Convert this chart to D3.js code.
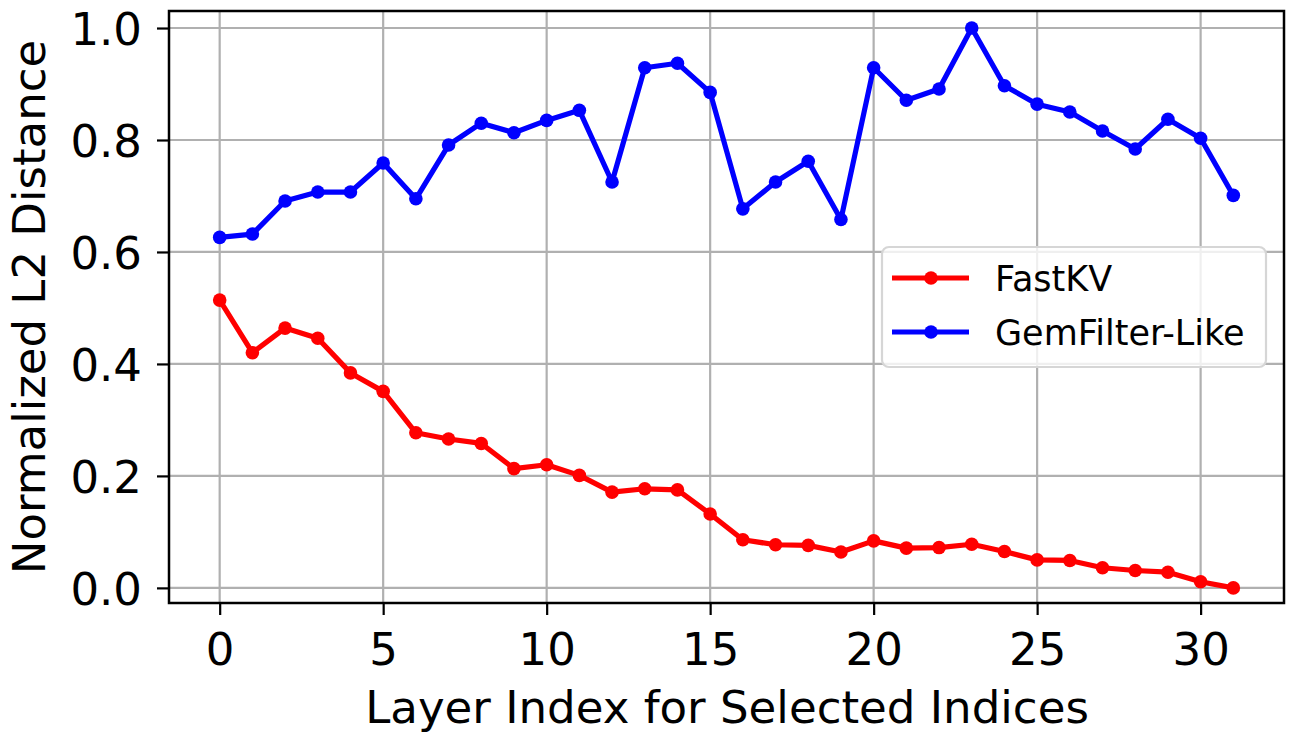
<!DOCTYPE html>
<html>
<head>
<meta charset="utf-8">
<script src="https://cdn.jsdelivr.net/npm/d3@7"></script>
<style>
  html, body { margin: 0; padding: 0; background: #fff; }
  svg { display: block; }
  text { font-family: "DejaVu Sans", sans-serif; fill: #000; }
</style>
</head>
<body>
<svg id="chart" width="1292" height="737"></svg>
<script>
const layers = d3.range(32);
const fastKV = [0.514, 0.420, 0.464, 0.446, 0.384, 0.351, 0.277, 0.266, 0.258, 0.213,
                0.220, 0.201, 0.171, 0.177, 0.175, 0.132, 0.086, 0.077, 0.076, 0.064,
                0.084, 0.071, 0.072, 0.078, 0.065, 0.050, 0.049, 0.036, 0.031, 0.028,
                0.011, 0.000];
const gemFilter = [0.626, 0.632, 0.691, 0.707, 0.707, 0.759, 0.695, 0.791, 0.830, 0.813,
                   0.835, 0.853, 0.725, 0.929, 0.937, 0.885, 0.677, 0.725, 0.762, 0.658,
                   0.929, 0.871, 0.891, 1.000, 0.897, 0.864, 0.850, 0.816, 0.784, 0.837,
                   0.803, 0.701];
const xTicks = [0, 5, 10, 15, 20, 25, 30];
const yTicks = [0.0, 0.2, 0.4, 0.6, 0.8, 1.0];
const seriesNames = ["FastKV", "GemFilter-Like"];
const seriesColors = ["#ff0000", "#0000ff"];
const xLabel = "Layer Index for Selected Indices";
const yLabel = "Normalized L2 Distance";

const svg = d3.select("#chart");
const L = 169, R = 1284, T = 11, B = 603;
const x = d3.scaleLinear().domain([-1.55, 32.55]).range([L, R]);
const y = d3.scaleLinear().domain([-0.027, 1.0304]).range([B, T]);

// grid
const grid = svg.append("g");
grid.selectAll("line.gx").data(xTicks).enter().append("line")
  .attr("x1", d => x(d)).attr("x2", d => x(d)).attr("y1", T).attr("y2", B)
  .attr("stroke", "#b0b0b0").attr("stroke-width", 2.2);
grid.selectAll("line.gy").data(yTicks).enter().append("line")
  .attr("y1", d => y(d)).attr("y2", d => y(d)).attr("x1", L).attr("x2", R)
  .attr("stroke", "#b0b0b0").attr("stroke-width", 2.2);

// lines
const series = [fastKV, gemFilter];
const line = d3.line().x((d, i) => x(layers[i])).y(d => y(d));
series.forEach((s, k) => {
  svg.append("path").datum(s).attr("d", line)
    .attr("fill", "none").attr("stroke", seriesColors[k])
    .attr("stroke-width", 5.2).attr("stroke-linejoin", "round").attr("stroke-linecap", "square");
  svg.append("g").selectAll("circle").data(s).enter().append("circle")
    .attr("cx", (d, i) => x(layers[i])).attr("cy", d => y(d)).attr("r", 6.8)
    .attr("fill", seriesColors[k]);
});

// axes
const xAxis = d3.axisBottom(x).tickValues(xTicks).tickFormat(d3.format("d"))
  .tickSize(12).tickPadding(10);
const yAxis = d3.axisLeft(y).tickValues(yTicks).tickFormat(d3.format(".1f"))
  .tickSize(12).tickPadding(15);
const gx = svg.append("g").attr("transform", `translate(0,${B})`).call(xAxis);
const gy = svg.append("g").attr("transform", `translate(${L},0)`).call(yAxis);
[gx, gy].forEach(g => {
  g.select(".domain").remove();
  g.selectAll(".tick line").attr("stroke", "#000").attr("stroke-width", 2.2);
  g.selectAll(".tick text").attr("font-size", 45).attr("font-family", "DejaVu Sans").attr("fill", "#000");
});
gx.selectAll(".tick text").attr("dy", null).attr("transform", null)
  .attr("y", 62);
gy.selectAll(".tick text").attr("dy", "0.36em");

// frame
svg.append("rect").attr("x", L).attr("y", T).attr("width", R - L).attr("height", B - T)
  .attr("fill", "none").attr("stroke", "#000").attr("stroke-width", 2.5);

// labels
svg.append("text").attr("x", (L + R) / 2 + 0.5).attr("y", 723).attr("text-anchor", "middle")
  .attr("font-size", 45.1).text(xLabel);
svg.append("text").attr("transform", `translate(45,${(T + B) / 2}) rotate(-90)`)
  .attr("text-anchor", "middle").attr("font-size", 45).text(yLabel);

// legend
const lg = svg.append("g");
lg.append("rect").attr("x", 882).attr("y", 247).attr("width", 384).attr("height", 120)
  .attr("rx", 7).attr("fill", "#fff").attr("fill-opacity", 0.8)
  .attr("stroke", "#d6d6d6").attr("stroke-width", 2.2);
const rowsY = [278, 332];
seriesNames.forEach((n, k) => {
  lg.append("line").attr("x1", 892).attr("x2", 969).attr("y1", rowsY[k]).attr("y2", rowsY[k])
    .attr("stroke", seriesColors[k]).attr("stroke-width", 5.2);
  lg.append("circle").attr("cx", 931).attr("cy", rowsY[k]).attr("r", 6.8).attr("fill", seriesColors[k]);
  lg.append("text").attr("x", 995).attr("y", rowsY[k]).attr("dy", "0.36em")
    .attr("font-size", 35).text(n);
});
</script>
</body>
</html>
